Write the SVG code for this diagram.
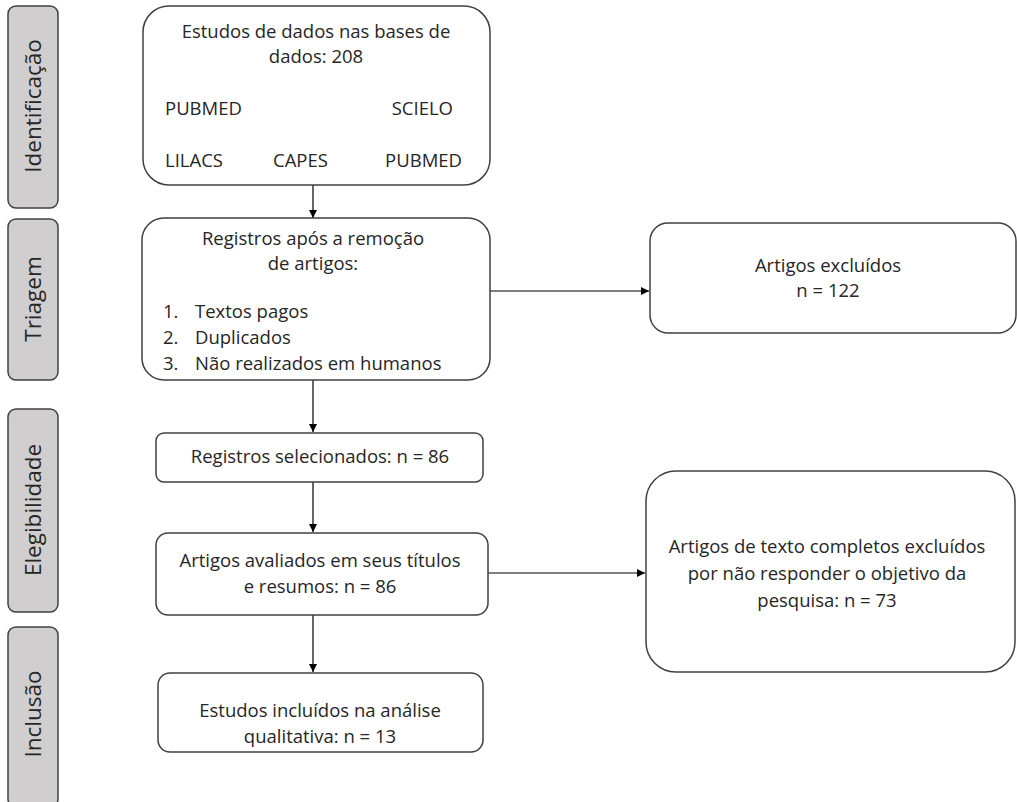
<svg xmlns="http://www.w3.org/2000/svg" width="1017" height="802" viewBox="0 0 1017 802">
<style>
.phase{fill:#d0cece;stroke:#404040;stroke-width:1.5}
.box{fill:#ffffff;stroke:#404040;stroke-width:1.5}
.pt{font-family:"Open Sans","Liberation Sans",sans-serif;font-size:22.5px;fill:#262626;text-anchor:middle}
.t{font-family:"Open Sans","Liberation Sans",sans-serif;font-size:18.5px;fill:#262626}
.c{text-anchor:middle}
.conn{stroke:#000;stroke-width:1.2;fill:none;marker-end:url(#ah)}
</style>
<defs>
<marker id="ah" viewBox="0 0 10 10" refX="10" refY="5" markerWidth="8" markerHeight="8" markerUnits="userSpaceOnUse" orient="auto">
<path d="M0,0 L10,5 L0,10 z" fill="#000"/>
</marker>
</defs>
<rect width="1017" height="802" fill="#ffffff"/>

<g id="phase-identificacao">
<rect class="phase" x="8" y="6" width="50" height="202" rx="8"/>
<text class="pt" transform="translate(41,106) rotate(-90)">Identificação</text>
</g>
<g id="phase-triagem">
<rect class="phase" x="8" y="219" width="50" height="161" rx="8"/>
<text class="pt" transform="translate(41,299) rotate(-90)">Triagem</text>
</g>
<g id="phase-elegibilidade">
<rect class="phase" x="8" y="409" width="50" height="203" rx="8"/>
<text class="pt" transform="translate(41,510) rotate(-90)">Elegibilidade</text>
</g>
<g id="phase-inclusao">
<rect class="phase" x="8" y="627" width="50" height="180" rx="8"/>
<text class="pt" transform="translate(41,714) rotate(-90)">Inclusão</text>
</g>

<g id="connectors">
<line class="conn" x1="313" y1="185" x2="313" y2="218"/>
<line class="conn" x1="313" y1="380" x2="313" y2="432"/>
<line class="conn" x1="313" y1="482" x2="313" y2="532"/>
<line class="conn" x1="313" y1="615" x2="313" y2="672"/>
<line class="conn" x1="490" y1="291" x2="649" y2="291"/>
<line class="conn" x1="488" y1="573" x2="645" y2="573"/>
</g>

<g id="node-bases">
<rect class="box" x="143" y="6" width="347" height="179" rx="26"/>
<text class="t c" x="316" y="38">Estudos de dados nas bases de</text>
<text class="t c" x="316" y="63">dados: 208</text>
<text class="t" x="165" y="115">PUBMED</text>
<text class="t" x="453" y="115" text-anchor="end">SCIELO</text>
<text class="t" x="165" y="167">LILACS</text>
<text class="t" x="273" y="167">CAPES</text>
<text class="t" x="462" y="167" text-anchor="end">PUBMED</text>
</g>

<g id="node-registros">
<rect class="box" x="142" y="218" width="348" height="162" rx="22"/>
<text class="t c" x="313" y="245">Registros após a remoção</text>
<text class="t c" x="313" y="270">de artigos:</text>
<text class="t" x="163" y="318">1.</text>
<text class="t" x="195" y="318">Textos pagos</text>
<text class="t" x="163" y="344">2.</text>
<text class="t" x="195" y="344">Duplicados</text>
<text class="t" x="163" y="370">3.</text>
<text class="t" x="195" y="370">Não realizados em humanos</text>
</g>

<g id="node-excluidos">
<rect class="box" x="650" y="223" width="366" height="110" rx="18"/>
<text class="t c" x="828" y="272">Artigos excluídos</text>
<text class="t c" x="828" y="297">n = 122</text>
</g>

<g id="node-selecionados">
<rect class="box" x="156" y="433" width="327" height="49" rx="8"/>
<text class="t c" x="320" y="463">Registros selecionados: n = 86</text>
</g>

<g id="node-avaliados">
<rect class="box" x="156" y="533" width="332" height="82" rx="12"/>
<text class="t c" x="320" y="567">Artigos avaliados em seus títulos</text>
<text class="t c" x="320" y="593">e resumos: n = 86</text>
</g>

<g id="node-texto-completo">
<rect class="box" x="646" y="471" width="369" height="201" rx="30"/>
<text class="t c" x="827" y="553">Artigos de texto completos excluídos</text>
<text class="t c" x="827" y="580">por não responder o objetivo da</text>
<text class="t c" x="827" y="607">pesquisa: n = 73</text>
</g>

<g id="node-incluidos">
<rect class="box" x="158" y="673" width="325" height="79" rx="12"/>
<text class="t c" x="320" y="717">Estudos incluídos na análise</text>
<text class="t c" x="320" y="743">qualitativa: n = 13</text>
</g>
</svg>
